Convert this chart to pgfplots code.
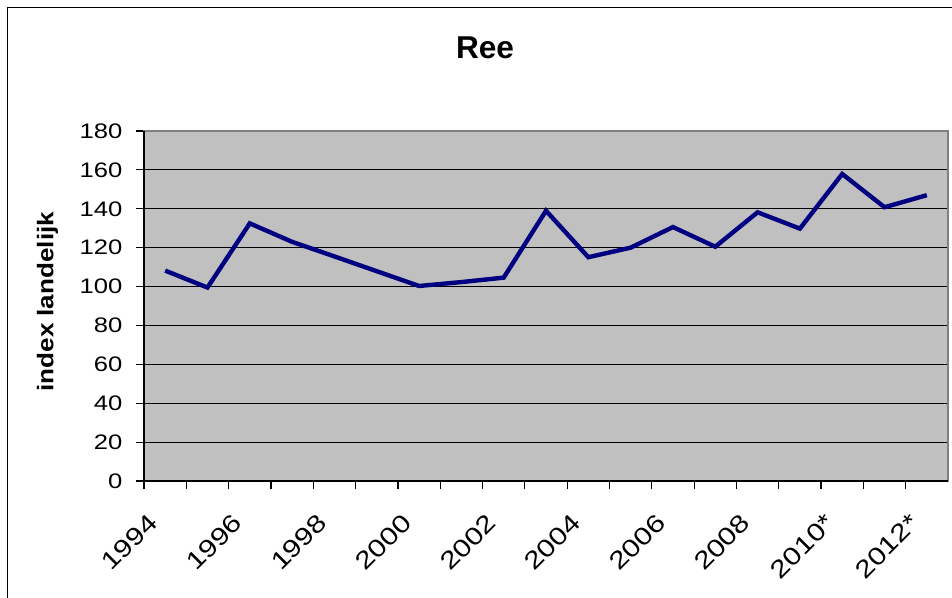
\documentclass[border=0pt]{standalone}
\usepackage{pgfplots}
\pgfplotsset{compat=1.18}
\usepackage{fontspec}
\setmainfont{Liberation Sans}
\newfontfamily\tickfont[FakeStretch=1.22]{Liberation Sans}
\newfontfamily\labelfont[FakeStretch=1.15]{Liberation Sans}
\definecolor{plotgray}{HTML}{C0C0C0}
\definecolor{navyline}{HTML}{000080}
\definecolor{bordergray}{HTML}{808080}
\begin{document}
\begin{tikzpicture}
\useasboundingbox (0,0) rectangle (714pt,-447.75pt);
\draw[line width=1.1pt] (5.5pt,-470pt) -- (5.5pt,-5.8pt) -- (740pt,-5.8pt);
\node[font=\bfseries\fontsize{23.7}{28}\selectfont, inner sep=0pt] at (363.75pt,-36pt) {Ree};
\node[font=\labelfont\bfseries\fontsize{17}{20}\selectfont, rotate=90, inner sep=0pt] at (35.6pt,-226.3pt) {index landelijk};
\begin{axis}[
  at={(108pt,-360.75pt)}, anchor=south west,
  scale only axis, width=603pt, height=262.5pt,
  xmin=0, xmax=19, ymin=0, ymax=180,
  axis background/.style={fill=plotgray},
  axis line style={draw=bordergray, line width=1pt},
  ytick={0,20,...,180},
  xtick={0,...,18},
  xticklabels={1994,,1996,,1998,,2000,,2002,,2004,,2006,,2008,,2010*,,2012*},
  ymajorgrids, grid style={black, line width=0.9pt},
  tick align=outside, major tick length=6pt,
  xtick pos=bottom, ytick pos=left,
  tick style={black, line width=0.9pt},
  /pgf/number format/assume math mode=true,
  yticklabel style={font=\tickfont\fontsize{15.75}{18}\selectfont, anchor=east, inner sep=0pt, xshift=-10pt},
  xticklabel style={font=\tickfont\fontsize{18.5}{21}\selectfont, inner sep=0pt, xshift=7pt, yshift=-22pt, rotate=45, anchor=east},
  clip=false,
]
\addplot[navyline, line width=3.3pt, line join=miter] coordinates {
(0.5,108.2) (1.5,99.5) (2.5,132.5) (3.5,123.0) (4.5,115.5) (5.5,107.9)
(6.5,100.3) (7.5,102.3) (8.5,104.6) (9.5,139.0) (10.5,115.1) (11.5,120.0)
(12.5,130.6) (13.5,120.5) (14.5,138.2) (15.5,129.8) (16.5,157.9) (17.5,140.8) (18.5,147.0)
};
\draw[black, line width=1.1pt] (rel axis cs:0,1) -- (rel axis cs:0,0) -- (rel axis cs:1,0);
\end{axis}
\end{tikzpicture}
\end{document}
